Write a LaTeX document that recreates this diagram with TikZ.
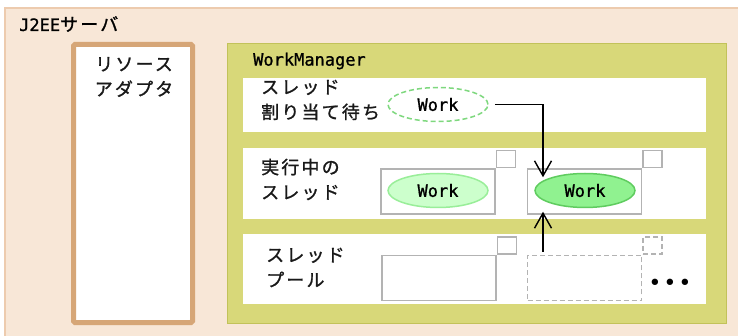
\documentclass[tikz,border=0pt]{standalone}
\usepackage{fontspec}
\usepackage{tikz}
\usetikzlibrary{shapes.geometric, arrows.meta}
\newfontfamily\jpfont[LetterSpace=12, FakeBold=1.2]{Noto Sans CJK JP}
\newfontfamily\monofont[FakeBold=1]{DejaVu Sans Mono}
\newfontfamily\dotfont[LetterSpace=8]{DejaVu Sans Mono}
\definecolor{serverfill}{HTML}{F8E7D7}
\definecolor{serverline}{HTML}{EDCBAE}
\definecolor{adapterline}{HTML}{D6A677}
\definecolor{wmfill}{HTML}{D8D879}
\definecolor{wmline}{HTML}{C2C25A}
\definecolor{slotline}{HTML}{B3B3B3}
\definecolor{waitline}{HTML}{7ED87E}
\definecolor{idlework}{HTML}{CCFFCC}
\definecolor{idleworkline}{HTML}{99EE99}
\definecolor{activework}{HTML}{90F290}
\definecolor{activeworkline}{HTML}{5FCC5F}

\begin{document}
\begin{tikzpicture}[x=1pt, y=-1pt,
    jplabel/.style={font=\jpfont\fontsize{18}{25}\selectfont, text=black!90, inner sep=0pt, align=left},
    monolabel/.style={font=\monofont\fontsize{17}{17}\selectfont, inner sep=0pt},
    slot/.style={draw=slotline, line width=1.5pt, fill=white, minimum width=114pt, minimum height=45pt, inner sep=0pt},
    tab/.style={draw=slotline, line width=1.5pt, minimum width=19pt, minimum height=17pt, inner sep=0pt, anchor=south west},
    work/.style={ellipse, line width=1.5pt, minimum width=100pt, minimum height=34pt, inner sep=0pt, monolabel},
    flow/.style={line width=1.4pt, -{Straight Barb[length=15pt, width=17pt]}}]
  \useasboundingbox (0,0) rectangle (738,336);
  \clip (0,0) rectangle (738,336);
  % J2EE server
  \fill[serverfill] (5,8) rectangle (760,360);
  \draw[serverline, line width=1.5pt] (5,360) -- (5,8) -- (760,8);
  \node[anchor=west, inner sep=0pt] (server) at (19,24)
  {\monofont\fontsize{17}{17}\selectfont J2EE\jpfont\fontsize{18}{18}\selectfont サーバ};
  % resource adapter
  \draw[adapterline, line width=5pt, fill=white, rounded corners=1.5pt]
  (73.5,44.5) rectangle (192.5,322.5);
  \node[jplabel, align=center] (adapter) at (134,77) {リソース\\アダプタ};
  % WorkManager
  \draw[wmline, fill=wmfill, line width=1pt] (227.5,43.5) rectangle (726.5,323.5);
  \node[monolabel, anchor=west] (manager) at (253,61) {WorkManager};
  \fill[white] (243,78) rectangle (706,132);
  \fill[white] (243,148) rectangle (706,219);
  \fill[white] (243,234) rectangle (706,304);
  \node[jplabel, anchor=west] (waiting) at (261,100) {スレッド\\割り当て待ち};
  \node[jplabel, anchor=west] (running) at (261,179.5) {実行中の\\スレッド};
  \node[jplabel, anchor=west] (pool) at (266,267.5) {スレッド\\プール};
  % thread slots
  \node[slot] (busy1) at (438,191.5) {};
  \node[tab] at (busy1.north east) {};
  \node[slot] (busy2) at (584.5,191.5) {};
  \node[tab] at (busy2.north east) {};
  \node[slot] (free1) at (439,278) {};
  \node[tab] at (free1.north east) {};
  \node[slot, dash pattern=on 5pt off 3pt] (free2) at (584.5,278) {};
  \node[tab, dash pattern=on 5pt off 3pt] at (free2.north east) {};
  \node[font=\dotfont\fontsize{22}{22}\selectfont, inner sep=0pt] (more) at (670,285) {•••};
  % works
  \node[work, draw=waitline, fill=white, dash pattern=on 5pt off 3pt] (queued) at (438,104.5) {Work};
  \node[work, draw=idleworkline, fill=idlework] (job1) at (438,190.5) {Work};
  \node[work, draw=activeworkline, fill=activework] (job2) at (585,190.5) {Work};
  % dispatch
  \coordinate (lane) at (543,0);
  \draw[flow, shorten <=6pt, shorten >=-4.5pt] (queued.east) -| (job2.north -| lane);
  \draw[flow, shorten <=3pt, shorten >=-3pt] (free2.north -| lane) -- (busy2.south -| lane);
\end{tikzpicture}
\end{document}
